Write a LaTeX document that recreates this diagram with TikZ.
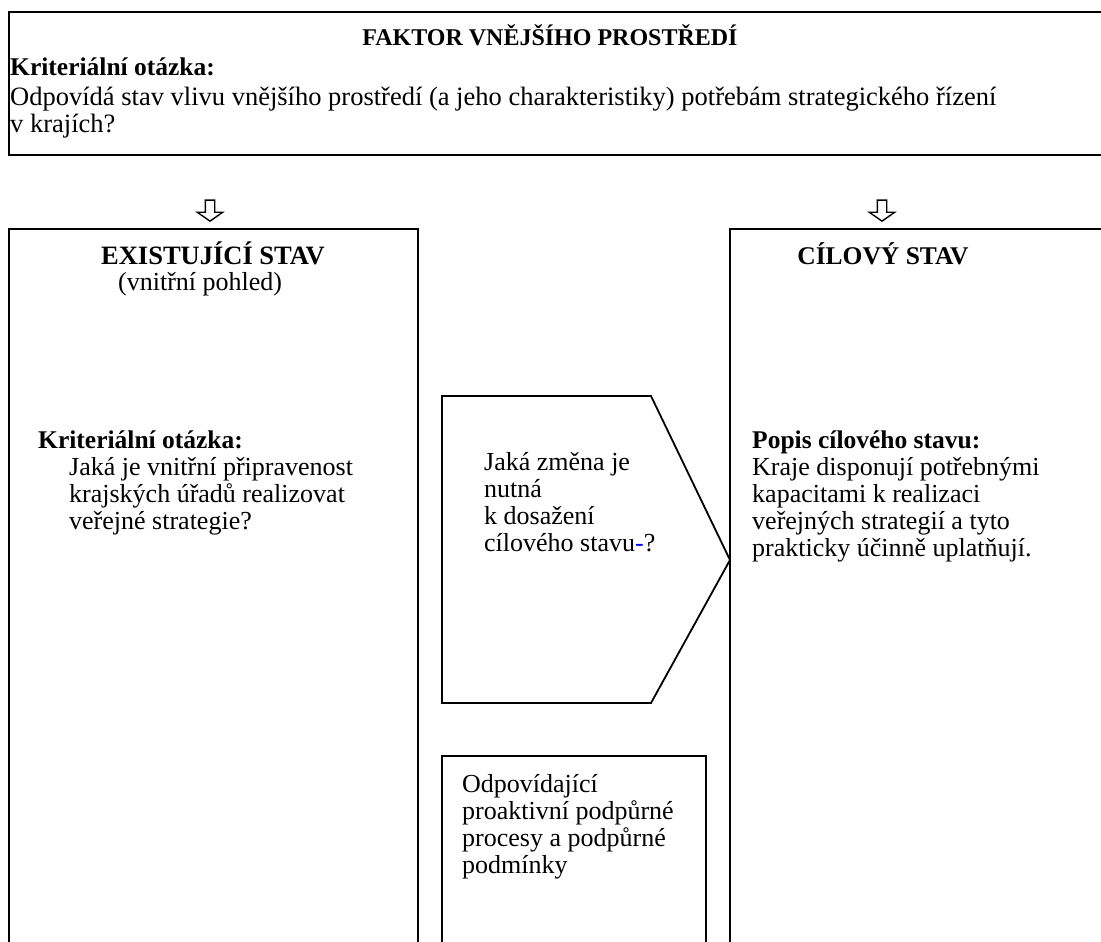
\documentclass[tikz,border=0pt]{standalone}
\usepackage{fontspec}
\setmainfont{Liberation Serif}
\usetikzlibrary{shapes.arrows}

\begin{document}
\begin{tikzpicture}[x=1pt,y=-1pt,
  box/.style={line width=1.8pt},
  txt/.style={anchor=base west,inner sep=0pt,align=left,
    font=\fontsize{26}{27}\selectfont},
  label/.style={txt,font=\fontsize{25.5}{27}\selectfont\bfseries},
  head/.style={label,anchor=base},
  downarrow/.style={single arrow,draw,line width=1.4pt,rotate=-90,
    inner xsep=0pt,inner ysep=4pt,single arrow head extend=8pt,
    minimum height=21pt,single arrow tip angle=110}]
\useasboundingbox (0,0) rectangle (1101,942);
\clip (0,0) rectangle (1101,942);
% boxes
\draw [box] (9,12) rectangle (1130,155);
\draw [box] (9,229) rectangle (418,970);
\draw [box] (730,229) rectangle (1130,970);
\draw [box] (442,396) -- (651,396) -- (730,560) -- (651,703) -- (442,703) -- cycle;
\draw [box] (442,756) rectangle (706,970);
% arrows
\node [downarrow] (arrL) at (210,209) {};
\node [downarrow] (arrR) at (882,209) {};
% top box (multi-line nodes sit on their last baseline)
\node [head,font=\fontsize{24}{27}\selectfont\bfseries] (factor) at (550,46) {FAKTOR VNĚJŠÍHO PROSTŘEDÍ};
\node [label] (factorQ) at (10,76) {Kriteriální otázka:};
\node [txt,font=\fontsize{26.5}{27}\selectfont] (factorT) at (10,132) {Odpovídá stav vlivu vnějšího prostředí (a jeho charakteristiky) potřebám strategického řízení\\v krajích?};
% left box
\node [head,font=\fontsize{26.5}{27}\selectfont\bfseries] (exist) at (213,264) {EXISTUJÍCÍ STAV};
\node [txt] (existSub) at (118,290) {(vnitřní pohled)};
\node [label] (existQ) at (38,448) {Kriteriální otázka:};
\node [txt] (existT) at (69,529) {Jaká je vnitřní připravenost\\krajských úřadů realizovat\\veřejné strategie?};
% middle
\node [txt] (change) at (484,551) {Jaká změna je\\nutná\\k dosažení\\cílového stavu\textcolor{blue}{-}?};
\node [txt] (support) at (462,873) {Odpovídající\\proaktivní podpůrné\\procesy a podpůrné\\podmínky};
% right box
\node [head] (target) at (883,264) {CÍLOVÝ STAV};
\node [label] (targetQ) at (752,448) {Popis cílového stavu:};
\node [txt] (targetT) at (752,556) {Kraje disponují potřebnými\\kapacitami k realizaci\\veřejných strategií a tyto\\prakticky účinně uplatňují.};
\end{tikzpicture}
\end{document}
